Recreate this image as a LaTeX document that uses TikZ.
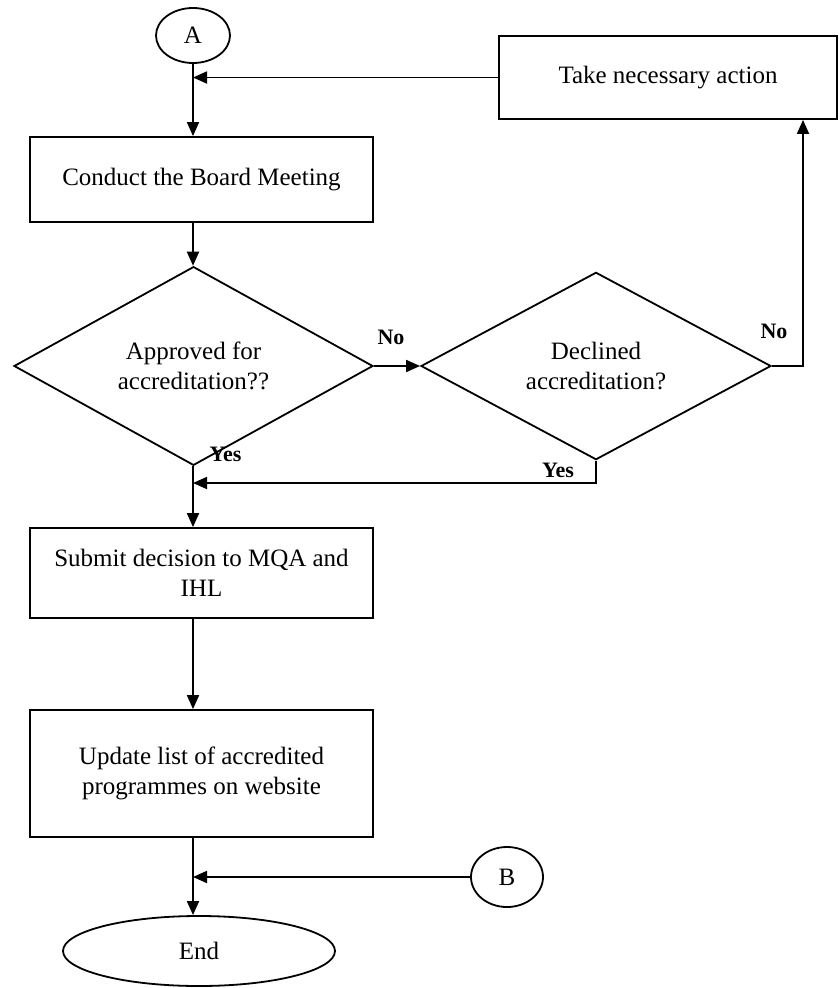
\documentclass[tikz,border=0pt]{standalone}
\usepackage{fontspec}
\setmainfont{Liberation Serif}
\usetikzlibrary{shapes.geometric,arrows.meta}
\begin{document}
\begin{tikzpicture}[x=1pt,y=-1pt, line width=1.8pt,
  txt/.style={font=\fontsize{25}{29.5}\selectfont},
  box/.style={draw, rectangle, inner sep=0pt, align=center, txt},
  dec/.style={draw, diamond, inner sep=0pt, align=center, txt},
  conn/.style={draw, ellipse, inner sep=0pt, txt},
  lab/.style={font=\fontsize{22}{26}\selectfont\bfseries, inner sep=0pt},
  arr/.style={-{Triangle[length=14pt,width=12pt]}}]
\useasboundingbox (0,0) rectangle (839,988);
\coordinate (mx) at (193,0);
\coordinate (nr) at (803,0);
\coordinate (yl) at (0,483);
\node[conn, minimum width=74pt, minimum height=55pt] (a) at (193,35.5) {A};
\node[box, minimum width=338pt, minimum height=83pt] (take) at (668,77.5) {Take necessary action};
\node[box, minimum width=343pt, minimum height=85pt] (conduct) at (201.5,179.5) {Conduct the Board Meeting};
\node[dec, minimum width=359pt, minimum height=142pt] (d1) at (193.5,366) {Approved for\\accreditation??};
\node[dec, minimum width=350pt, minimum height=158pt] (d2) at (596,366) {Declined\\accreditation?};
\node[box, minimum width=343pt, minimum height=90pt] (submit) at (201.5,573) {Submit decision to MQA and\\IHL};
\node[box, minimum width=343pt, minimum height=127pt] (update) at (201.5,773.5) {Update list of accredited\\programmes on website};
\node[conn, minimum width=72pt, minimum height=60pt] (b) at (507,877) {B};
\node[conn, minimum width=272pt, minimum height=70pt] (end) at (199,951) {End};
\node[lab] (no1) at (391,337) {No};
\node[lab] (no2) at (774,331) {No};
\node[lab] (yes1) at (225.5,454) {Yes};
\node[lab] (yes2) at (558,470) {Yes};
\draw[arr] (take.west) -- (mx |- take.west);
\draw[arr] (a.south) -- (mx |- conduct.north);
\draw[arr] (mx |- conduct.south) -- (mx |- d1.north);
\draw[arr] (d1.east) -- (d2.west);
\draw[arr] (d2.east) -- (nr |- d2.east) -- (nr |- take.south);
\draw[arr] (d2.south) -- (d2.south |- yl) -- (mx |- yl);
\draw[arr] (mx |- d1.south) -- (mx |- submit.north);
\draw[arr] (mx |- submit.south) -- (mx |- update.north);
\draw[arr] (mx |- update.south) -- (mx |- end.north);
\draw[arr] (b.west) -- (mx |- b.west);
\end{tikzpicture}
\end{document}
